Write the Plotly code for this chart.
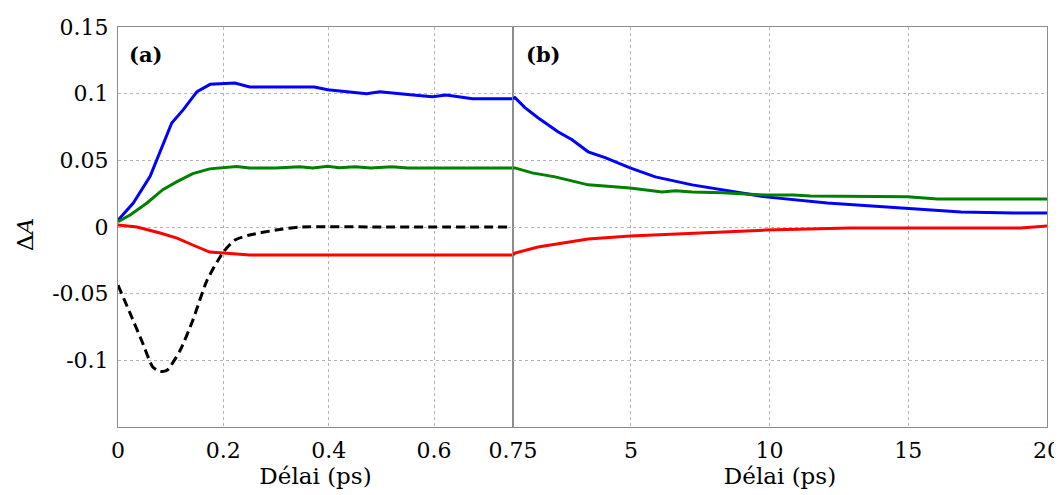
import plotly.graph_objects as go

# ---------- data: panel (a), 0 - 0.75 ps ----------
blue_a_t = [0, 0.029, 0.061, 0.080, 0.102, 0.124, 0.15, 0.175, 0.2, 0.222, 0.25, 0.30, 0.345, 0.373,
            0.398, 0.435, 0.472, 0.497, 0.529, 0.56, 0.597, 0.623, 0.65, 0.673, 0.75]
blue_a_v = [0.005, 0.018, 0.038, 0.056, 0.078, 0.088, 0.1015, 0.107, 0.1075, 0.108, 0.105, 0.105, 0.1045,
            0.105, 0.103, 0.1015, 0.100, 0.1015, 0.100, 0.099, 0.0977, 0.099, 0.0975, 0.0962, 0.0962]

green_a_t = [0, 0.023, 0.055, 0.085, 0.112, 0.142, 0.174, 0.2, 0.225, 0.25, 0.30, 0.345, 0.37, 0.398,
             0.42, 0.45, 0.48, 0.52, 0.55, 0.60, 0.65, 0.75]
green_a_v = [0.004, 0.009, 0.018, 0.028, 0.034, 0.040, 0.0436, 0.0443, 0.0453, 0.0443, 0.0443, 0.0452,
             0.0443, 0.0456, 0.0445, 0.0452, 0.0443, 0.0452, 0.0443, 0.0443, 0.0443, 0.0443]

red_a_t = [0, 0.036, 0.08, 0.112, 0.142, 0.174, 0.2, 0.25, 0.40, 0.60, 0.75]
red_a_v = [0.0015, 0.0, -0.0045, -0.0083, -0.0135, -0.0188, -0.0195, -0.021, -0.021, -0.021, -0.021]

black_a_t = [0, 0.023, 0.047, 0.066, 0.08, 0.093, 0.118, 0.142, 0.169, 0.2, 0.222, 0.25, 0.30, 0.345, 0.50, 0.75]
black_a_v = [-0.0436, -0.0647, -0.0872, -0.105, -0.1083, -0.1075, -0.0925, -0.07, -0.040, -0.0188,
             -0.0098, -0.006, -0.0023, 0.0, 0.0, 0.0]

# ---------- data: panel (b), 0.75 - 20 ps ----------
blue_b_t = [0.75, 0.82, 1.18, 1.65, 2.37, 2.88, 3.46, 4.07, 4.97, 5.88, 7.21, 8.30, 9.85, 12.08, 14.97, 16.9, 18.8, 20]
blue_b_v = [0.0962, 0.097, 0.0895, 0.082, 0.0714, 0.0654, 0.0564, 0.052, 0.0444, 0.0376, 0.0316, 0.0278,
            0.0226, 0.018, 0.0143, 0.0113, 0.0105, 0.0105]

green_b_t = [0.75, 0.82, 1.44, 2.27, 3.46, 4.97, 6.13, 6.6, 7.21, 8.3, 9.85, 10.86, 11.47, 14.97, 16.05, 20]
green_b_v = [0.0443, 0.0443, 0.0406, 0.0376, 0.0316, 0.0293, 0.0263, 0.0272, 0.0263, 0.0256, 0.024, 0.024,
             0.0233, 0.0226, 0.021, 0.021]

red_b_t = [0.75, 0.82, 1.65, 3.46, 4.97, 6.7, 8.0, 9.85, 12.9, 19.05, 20]
red_b_v = [-0.021, -0.0195, -0.015, -0.009, -0.0068, -0.0053, -0.0038, -0.0023, -0.0008, -0.0008, 0.0008]

y_ticks = [-0.1, -0.05, 0, 0.05, 0.1, 0.15]
y_tick_text = ["-0.1", "-0.05", "0", "0.05", "0.1", "0.15"]
xa_ticks = [0, 0.2, 0.4, 0.6]
xa_tick_text = ["0", "0.2", "0.4", "0.6"]
xb_ticks = [0.75, 5, 10, 15, 20]
xb_tick_text = ["0.75", "5", "10", "15", "20"]

BLUE, GREEN, RED, BLACK = "#0000FF", "#008000", "#FF0000", "#000000"
FONT = "DejaVu Serif"
FRAME = "#8c8c8c"
GRID = "#b4b4b4"

fig = go.Figure()
lw = 3
for t, v, c, ax in [
    (blue_a_t, blue_a_v, BLUE, "a"), (green_a_t, green_a_v, GREEN, "a"), (red_a_t, red_a_v, RED, "a"),
    (blue_b_t, blue_b_v, BLUE, "b"), (green_b_t, green_b_v, GREEN, "b"), (red_b_t, red_b_v, RED, "b"),
]:
    fig.add_trace(go.Scatter(x=t, y=v, mode="lines", line=dict(color=c, width=lw),
                             xaxis="x" if ax == "a" else "x2", yaxis="y" if ax == "a" else "y2",
                             showlegend=False, hoverinfo="skip"))
fig.add_trace(go.Scatter(x=black_a_t, y=black_a_v, mode="lines",
                         line=dict(color=BLACK, width=lw, dash="9px,5px", shape="spline", smoothing=0.6),
                         xaxis="x", yaxis="y", showlegend=False, hoverinfo="skip"))

split = 395 / 929
axis_common = dict(showline=True, linecolor=FRAME, linewidth=1, mirror=True, showgrid=True,
                   gridcolor=GRID, griddash="dot", gridwidth=1, zeroline=False, automargin=False,
                   ticks="outside", ticklen=4, tickcolor="rgba(0,0,0,0)",
                   tickfont=dict(family=FONT, size=22, color="black"))
title_font = dict(family=FONT, size=23, color="black")

# page body has an 8px margin: figure is sized so that the plot lands where the reference has it
fig.update_layout(
    width=1054, height=487,
    margin=dict(l=110, r=15, t=19, b=68),
    paper_bgcolor="white", plot_bgcolor="white",
    font=dict(family=FONT, color="black"),
    xaxis=dict(domain=[0, split], range=[0, 0.75], tickvals=xa_ticks, ticktext=xa_tick_text,
               anchor="y", title=dict(text="Délai (ps)", font=title_font, standoff=0),
               **axis_common),
    xaxis2=dict(domain=[split, 1], range=[0.75, 20], tickvals=xb_ticks, ticktext=xb_tick_text,
                anchor="y2", title=dict(text="Délai (ps)", font=title_font, standoff=0),
                **axis_common),
    yaxis=dict(range=[-0.15, 0.15], tickvals=y_ticks, ticktext=y_tick_text, anchor="x",
               **axis_common),
    yaxis2=dict(range=[-0.15, 0.15], tickvals=y_ticks, anchor="x2", showticklabels=False,
                **axis_common),
    annotations=[
        dict(text="Δ<i>A</i>", x=-0.1001, y=0.48, xref="paper", yref="paper", xanchor="center",
             yanchor="middle", textangle=-90, showarrow=False, font=title_font),
        dict(text="<b>(a)</b>", x=0.0097, y=0.9325, xref="paper", yref="paper", xanchor="left",
             yanchor="middle", showarrow=False, font=dict(family=FONT, size=21, color="black")),
        dict(text="<b>(b)</b>", x=(524 - 118) / 929, y=0.9325, xref="paper", yref="paper", xanchor="left",
             yanchor="middle", showarrow=False, font=dict(family=FONT, size=21, color="black")),
    ],
)

fig.write_html("out.html")
